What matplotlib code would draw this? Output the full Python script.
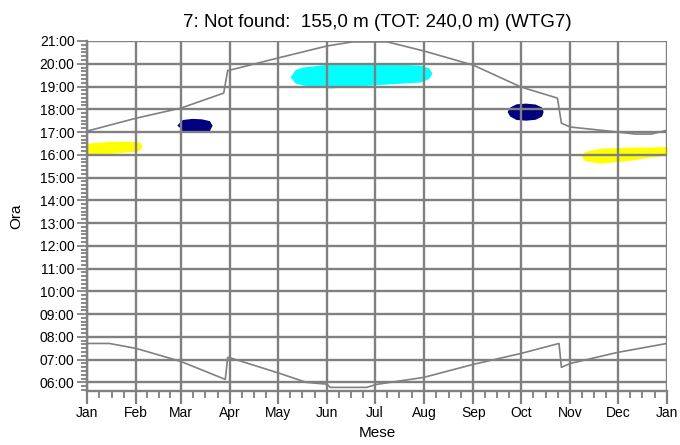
import numpy as np
import matplotlib
matplotlib.use("Agg")
import matplotlib.pyplot as plt
from matplotlib.ticker import FixedLocator, MultipleLocator, FuncFormatter

plt.rcParams['font.family'] = ['Liberation Sans', 'DejaVu Sans']

# month boundaries (day of year) and labels
month_starts = [0, 31, 59, 90, 120, 151, 181, 212, 243, 273, 304, 334, 365]
month_labels = ['Jan', 'Feb', 'Mar', 'Apr', 'May', 'Jun', 'Jul',
                'Aug', 'Sep', 'Oct', 'Nov', 'Dec', 'Jan']

# sunset / sunrise (hours)
sunset_day = [0, 31, 59, 86, 88.5, 90, 120, 151, 167, 189, 212, 243, 273, 296, 298.5, 304, 334, 345, 355, 365]
sunset_hr = [17.04, 17.61, 18.05, 18.71, 19.70, 19.72, 20.25, 20.78, 20.96, 20.96, 20.56, 19.94, 18.98, 18.49, 17.39, 17.22, 17.0, 16.91, 16.91, 17.08]
sunrise_day = [0, 14, 31, 59, 87, 88.5, 90, 121, 138, 151, 153, 176, 182, 212, 243, 273, 297, 298.5, 304, 334, 365]
sunrise_hr = [7.71, 7.71, 7.49, 6.92, 6.13, 7.10, 7.08, 6.40, 6.0, 5.92, 5.78, 5.78, 5.91, 6.22, 6.79, 7.27, 7.71, 6.66, 6.83, 7.32, 7.71]

# shadow periods: day, lower and upper hour bounds
yellow1_day = [0, 16, 30, 33, 34.6]
yellow1_lo = [16.03, 16.07, 16.15, 16.2, 16.38]
yellow1_hi = [16.51, 16.6, 16.58, 16.56, 16.38]

navy1_day = [56.5, 58, 60, 66, 72, 77, 78.7]
navy1_lo = [17.3, 17.22, 17.05, 17.0, 17.0, 17.06, 17.3]
navy1_hi = [17.3, 17.42, 17.55, 17.6, 17.58, 17.5, 17.3]

cyan_day = [127.8, 131, 136, 153, 178, 210, 215, 217.1]
cyan_lo = [19.42, 19.15, 19.06, 18.93, 19.06, 19.2, 19.35, 19.59]
cyan_hi = [19.42, 19.75, 19.86, 19.99, 20.03, 19.94, 19.82, 19.59]

navy2_day = [264.3, 266, 270, 276, 282, 286, 287]
navy2_lo = [17.9, 17.7, 17.55, 17.52, 17.56, 17.7, 17.9]
navy2_hi = [17.9, 18.1, 18.24, 18.27, 18.23, 18.1, 17.9]

yellow2_day = [311, 313, 323, 342, 354, 365]
yellow2_lo = [15.94, 15.75, 15.63, 15.76, 15.9, 15.98]
yellow2_hi = [15.94, 16.15, 16.29, 16.34, 16.34, 16.36]

grey = '#808080'

fig = plt.figure(figsize=(6.8, 4.45), dpi=100)
ax = fig.add_axes([0.128, 0.1213, 0.853, 0.7866])

ax.fill_between(yellow1_day, yellow1_lo, yellow1_hi, color='#ffff00', lw=0, zorder=1)
ax.fill_between(navy1_day, navy1_lo, navy1_hi, color='#000080', lw=0, zorder=1)
ax.fill_between(cyan_day, cyan_lo, cyan_hi, color='#00ffff', lw=0, zorder=1)
ax.fill_between(navy2_day, navy2_lo, navy2_hi, color='#000080', lw=0, zorder=1)
ax.fill_between(yellow2_day, yellow2_lo, yellow2_hi, color='#ffff00', lw=0, zorder=1)

ax.plot(sunset_day, sunset_hr, color=grey, lw=1.2, zorder=3)
ax.plot(sunrise_day, sunrise_hr, color=grey, lw=1.2, zorder=3)

ax.set_xlim(0, 365)
ax.set_ylim(5.62, 21.0)

ax.xaxis.set_major_locator(FixedLocator(month_starts))
ax.set_xticklabels(month_labels)
minor_x = []
for a, b in zip(month_starts[:-1], month_starts[1:]):
    minor_x += [a + (b - a) * k / 4 for k in (1, 2, 3)]
ax.xaxis.set_minor_locator(FixedLocator(minor_x))

ax.yaxis.set_major_locator(FixedLocator(range(6, 22)))
ax.yaxis.set_major_formatter(FuncFormatter(lambda v, p: f"{int(round(v)):02d}:00"))
ax.yaxis.set_minor_locator(MultipleLocator(1 / 6))

ax.grid(True, which='major', color=grey, lw=1.7, zorder=2)
for s in ['top', 'right']:
    ax.spines[s].set_visible(False)
for s in ['left', 'bottom']:
    ax.spines[s].set_color(grey)
    ax.spines[s].set_linewidth(1.7)

ax.tick_params(axis='both', which='both', color=grey, labelsize=10, direction='out')
ax.tick_params(axis='x', which='major', length=9, width=1.6, pad=2)
ax.tick_params(axis='x', which='minor', length=5, width=1.3)
ax.tick_params(axis='y', which='major', length=7, width=1.3, pad=2)
ax.tick_params(axis='y', which='minor', length=4, width=1.3)

ax.set_xlabel('Mese', fontsize=11, labelpad=4)
ax.set_ylabel('Ora', fontsize=11, labelpad=12)
ax.set_title('7: Not found:  155,0 m (TOT: 240,0 m) (WTG7)', fontsize=13.5, pad=10)

fig.savefig('out.png', dpi=100)
